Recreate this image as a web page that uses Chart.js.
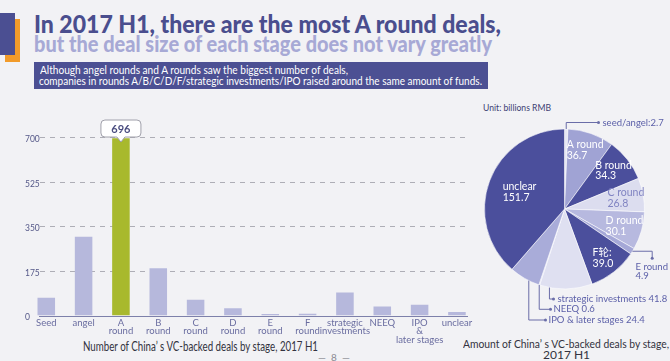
<!DOCTYPE html>
<html>
<head>
<meta charset="utf-8">
<script src="https://cdn.jsdelivr.net/npm/chart.js@4.4.0/dist/chart.umd.min.js"></script>
<style>
  html, body { margin: 0; padding: 0; width: 670px; height: 361px; overflow: hidden; background: #f2f2f5; }
  body { position: relative; font-family: Lato, 'Noto Sans CJK SC', sans-serif; }
  .t { position: absolute; white-space: nowrap; transform-origin: 0 0; }
  .blk { position: absolute; }
  #bar { position: absolute; left: 0; top: 100px; }
  #pie { position: absolute; left: 462px; top: 94px; }
</style>
</head>
<body>
<div class="blk" style="left:5px;top:19px;width:15px;height:43px;background:#f29b2a"></div>
<div class="blk" style="left:0;top:13px;width:15px;height:42px;background:#4b4f92"></div>
<div class="t fit" data-w="467" style="left:34px;top:12px;font-size:24px;line-height:24px;font-weight:900;color:#4a4e8e">In 2017 H1, there are the most A round deals,</div>
<div class="t fit" data-w="458" style="left:34px;top:33px;font-size:22px;line-height:22px;font-weight:900;color:#a7a9d5">but the deal size of each stage does not vary greatly</div>
<div class="blk" style="left:34px;top:62px;width:454px;height:27px;background:#4c5093"></div>
<div class="t fit" data-w="308" style="left:40px;top:64px;font-size:12px;line-height:12px;color:#fff">Although angel rounds and A rounds saw the biggest number of deals,</div>
<div class="t fit" data-w="443" style="left:39px;top:75px;font-size:12px;line-height:12px;color:#fff">companies in rounds A/B/C/D/F/strategic investments/IPO raised around the same amount of funds.</div>
<div class="t fit" data-w="68" style="left:483px;top:104px;font-size:8.5px;line-height:8.5px;color:#3d4173">Unit: billions RMB</div>
<div class="t fit" data-w="235" style="left:83px;top:341px;font-size:12.5px;line-height:12.5px;color:#333340">Number of China’ s VC-backed deals by stage, 2017 H1</div>
<div class="t fit" data-w="206" style="left:463px;top:338px;font-size:12px;line-height:12px;color:#333340">Amount of China’ s VC-backed deals by stage,</div>
<div class="t" style="left:543px;top:349px;font-size:12px;line-height:12px;color:#333340">2017 H1</div>
<div class="t" style="left:318px;top:352px;font-size:10px;line-height:10px;color:#8a8a92">—&nbsp;&nbsp;8&nbsp;&nbsp;—</div>

<canvas id="bar" width="490" height="261"></canvas>
<canvas id="pie" width="208" height="267"></canvas>

<script>
// deals by stage (count)
const stages = ['Seed', 'angel', ['A', 'round'], ['B', 'round'], ['C', 'round'], ['D', 'round'],
  ['E', 'round'], ['F', 'round'], ['strategic', 'investments'], 'NEEQ', ['IPO', '&', 'later stages'], 'unclear']
const dealCounts = [70, 309, 696, 186, 62, 28, 6, 7, 90, 35, 42, 14]
const yTicks = [0, 175, 350, 525, 700]

// amount by stage (billions RMB)
const stageNames = ['seed/angel', 'A round', 'B round', 'C round', 'D round', 'E round',
  'F轮:', 'strategic investments', 'NEEQ', 'IPO & later stages', 'unclear']
const amounts = [2.7, 36.7, 34.3, 26.8, 30.1, 4.9, 39.0, 41.8, 0.6, 24.4, 151.7]

const pieColors = ['#e6e7f4', '#a0a3d4', '#4b4f9c', '#dcddef', '#b7b9df', '#a5a8d7',
  '#4b4f9c', '#dfe0f1', '#c4c6e6', '#a9acd9', '#4b4f9c']

// squeeze headline texts to the widths seen in the picture
document.querySelectorAll('.fit').forEach(function (el) {
  var w = el.getBoundingClientRect().width
  el.style.transform = 'scaleX(' + (+el.dataset.w / w) + ')'
})

const peak = dealCounts.indexOf(Math.max(...dealCounts))

const gridPlugin = {
  id: 'dashGrid',
  beforeDatasetsDraw(chart) {
    const ctx = chart.ctx
    const y = chart.scales.y
    ctx.save()
    y.ticks.forEach(function (t) {
      const py = Math.round(y.getPixelForValue(t.value)) + 0.5
      ctx.beginPath()
      if (t.value === 0) {
        ctx.setLineDash([])
        ctx.strokeStyle = '#7d80aa'
        ctx.moveTo(39, py)
        ctx.lineTo(468, py)
      } else {
        ctx.setLineDash([5, 5])
        ctx.strokeStyle = '#aeaeb6'
        ctx.moveTo(40, py)
        ctx.lineTo(467, py)
      }
      ctx.lineWidth = 1
      ctx.stroke()
    })
    ctx.restore()
  },
  afterDatasetsDraw(chart) {
    // callout bubble over the highest bar
    const bar = chart.getDatasetMeta(0).data[peak]
    const ctx = chart.ctx
    const w = 40, h = 17, r = 4
    const l = bar.x - w / 2, rt = bar.x + w / 2
    const b = bar.y - 1.3, t = b - h
    ctx.save()
    ctx.beginPath()
    ctx.moveTo(l + r, t)
    ctx.lineTo(rt - r, t)
    ctx.arcTo(rt, t, rt, t + r, r)
    ctx.lineTo(rt, b - r)
    ctx.arcTo(rt, b, rt - r, b, r)
    ctx.lineTo(bar.x + 4, b)
    ctx.lineTo(bar.x, b + 5)
    ctx.lineTo(bar.x - 4, b)
    ctx.lineTo(l + r, b)
    ctx.arcTo(l, b, l, b - r, r)
    ctx.lineTo(l, t + r)
    ctx.arcTo(l, t, l + r, t, r)
    ctx.closePath()
    ctx.fillStyle = '#ffffff'
    ctx.fill()
    ctx.strokeStyle = '#a0a0aa'
    ctx.lineWidth = 1
    ctx.stroke()
    ctx.fillStyle = '#4a4d80'
    ctx.font = 'bold 11px Lato'
    ctx.textAlign = 'center'
    ctx.textBaseline = 'middle'
    ctx.fillText(String(dealCounts[peak]), bar.x, t + h / 2 + 0.5)
    ctx.restore()
  }
}

new Chart(document.getElementById('bar'), {
  type: 'bar',
  data: {
    labels: stages,
    datasets: [{
      data: dealCounts,
      backgroundColor: (c) => c.dataIndex === peak ? '#a8b92d' : '#b6b8dc',
      categoryPercentage: 1,
      barPercentage: 0.47,
    }],
  },
  options: {
    responsive: false,
    animation: false,
    events: [],
    layout: { padding: { left: 0, right: 14.4, top: 37.3, bottom: 0 } },
    plugins: { legend: { display: false }, tooltip: { enabled: false } },
    scales: {
      x: {
        grid: { display: false, drawTicks: false },
        border: { display: false },
        ticks: {
          color: '#6a6da0',
          font: { family: 'Lato', size: 9.5, lineHeight: 0.9 },
          padding: 3,
          autoSkip: false,
          maxRotation: 0,
          minRotation: 0,
        },
        afterFit: (s) => { s.height = 45.5 },
      },
      y: {
        min: yTicks[0],
        max: yTicks[yTicks.length - 1],
        grid: { display: false, drawTicks: false },
        border: { display: false },
        ticks: {
          stepSize: yTicks[1] - yTicks[0],
          color: '#555888',
          font: { family: 'Lato', size: 8.5 },
          mirror: true,
          padding: -2.6,
          labelOffset: 2,
        },
        afterFit: (s) => { s.width = 27.6 },
      },
    },
  },
  plugins: [gridPlugin],
})

// leader-line labels for the thin slices (offsets from the pie centre)
const callouts = {
  0: { path: 'v', t: 0.5, ly: -86.5, hx: 34, tx: 38, ty: -86.5, sep: ':' },
  5: { path: 'h', t: 0.5, ly: 49.3, hx: 87.7, tx: 71, ty: 57.7, stack: true },
  7: { path: 'v', t: 0.81, ly: 90, hx: -11, tx: -7, ty: 90 },
  8: { path: 'v', t: 0.5, ly: 100.3, hx: -14, tx: -11, ty: 100.3 },
  9: { path: 'v', t: 0.35, ly: 111, hx: -19, tx: -16, ty: 111 },
}

const pieLabelPlugin = {
  id: 'pieLabels',
  afterDatasetsDraw(chart) {
    const ctx = chart.ctx
    const meta = chart.getDatasetMeta(0)
    ctx.save()
    meta.data.forEach(function (el, i) {
      const p = el.getProps(['x', 'y', 'startAngle', 'endAngle', 'outerRadius'], true)
      const val = amounts[i].toFixed(1)
      const co = callouts[i]
      if (co) {
        const a = p.startAngle + co.t * (p.endAngle - p.startAngle)
        const sx = p.x + Math.cos(a) * p.outerRadius
        const sy = p.y + Math.sin(a) * p.outerRadius
        ctx.beginPath()
        ctx.moveTo(sx, sy)
        if (co.path === 'v') {
          ctx.lineTo(sx, p.y + co.ly)
        } else {
          ctx.lineTo(p.x + co.hx, sy)
        }
        const ex = p.x + co.hx, ey = p.y + co.ly
        ctx.lineTo(ex, ey)
        ctx.strokeStyle = '#6a6da8'
        ctx.lineWidth = 1
        ctx.stroke()
        ctx.beginPath()
        ctx.arc(ex, ey, 1.5, 0, Math.PI * 2)
        ctx.fillStyle = '#6a6da8'
        ctx.fill()
        ctx.fillStyle = '#5b5fa8'
        ctx.font = '9.5px Lato, "Noto Sans CJK SC"'
        ctx.textAlign = 'left'
        ctx.textBaseline = 'middle'
        if (co.stack) {
          ctx.fillText(stageNames[i], p.x + co.tx, p.y + co.ty)
          ctx.fillText(val, p.x + co.tx, p.y + co.ty + 9.5)
        } else {
          ctx.fillText(stageNames[i] + (co.sep || ' ') + val, p.x + co.tx, p.y + co.ty)
        }
      } else {
        const a = (p.startAngle + p.endAngle) / 2
        const big = (p.endAngle - p.startAngle) > Math.PI / 2
        const rr = p.outerRadius * (big ? 0.6 : 0.78)
        const cx = p.x + Math.cos(a) * rr
        const cy = p.y + Math.sin(a) * rr
        ctx.font = '10.5px Lato, "Noto Sans CJK SC"'
        const lines = [stageNames[i], val]
        const w = Math.max(...lines.map((s) => ctx.measureText(s).width))
        ctx.fillStyle = i === 3 ? '#8184c2' : '#ffffff'
        ctx.textAlign = 'left'
        ctx.textBaseline = 'middle'
        ctx.fillText(lines[0], cx - w / 2, cy - 5.3)
        ctx.fillText(lines[1], cx - w / 2, cy + 5.3)
      }
    })
    ctx.restore()
  }
}

new Chart(document.getElementById('pie'), {
  type: 'pie',
  data: {
    labels: stageNames,
    datasets: [{
      data: amounts,
      backgroundColor: pieColors,
      borderColor: 'rgba(255,255,255,0.55)',
      borderWidth: 1,
      radius: 80,
    }],
  },
  options: {
    responsive: false,
    animation: false,
    events: [],
    layout: { padding: { left: 0, right: 3, top: 0, bottom: 37 } },
    plugins: { legend: { display: false }, tooltip: { enabled: false } },
  },
  plugins: [pieLabelPlugin],
})
</script>
</body>
</html>
